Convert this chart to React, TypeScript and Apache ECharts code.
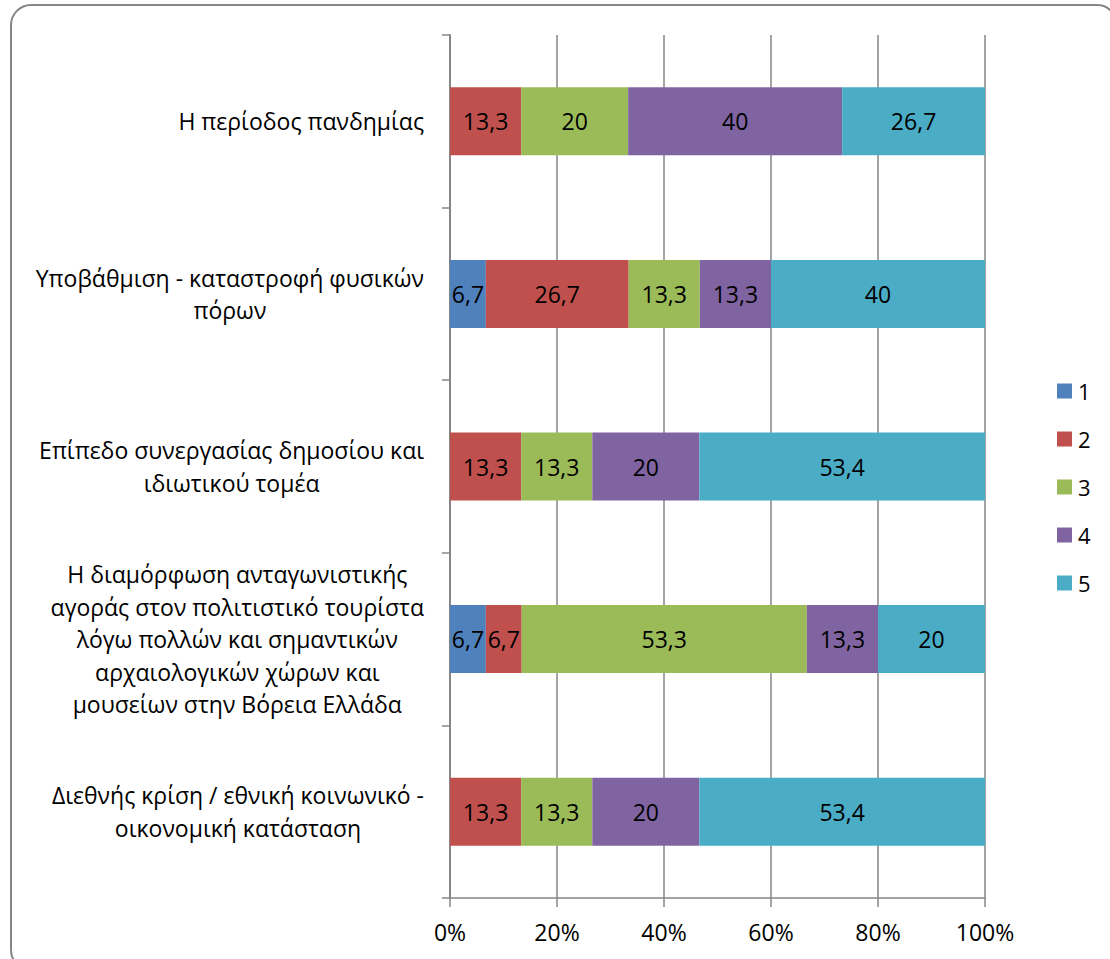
import React, { useEffect, useRef } from "react";
import * as echarts from "echarts";

const categories = [
  "Η περίοδος πανδημίας",
  "Υποβάθμιση - καταστροφή φυσικών\nπόρων",
  "Επίπεδο συνεργασίας δημοσίου και\nιδιωτικού τομέα",
  "Η διαμόρφωση ανταγωνιστικής\nαγοράς στον πολιτιστικό τουρίστα\nλόγω πολλών και σημαντικών\nαρχαιολογικών χώρων και\nμουσείων στην Βόρεια Ελλάδα",
  "Διεθνής κρίση / εθνική κοινωνικό -\nοικονομική κατάσταση",
];
const seriesNames = ["1", "2", "3", "4", "5"];
const s1 = [0, 6.7, 0, 6.7, 0];
const s2 = [13.3, 26.7, 13.3, 6.7, 13.3];
const s3 = [20, 13.3, 13.3, 53.3, 13.3];
const s4 = [40, 13.3, 20, 13.3, 20];
const s5 = [26.7, 40, 53.4, 20, 53.4];
const colors = ["#4F81BD", "#C0504D", "#9BBB59", "#8064A2", "#4BACC6"];
const xTicks = [0, 20, 40, 60, 80, 100];

const FONT = "'Open Sans', 'Noto Sans', sans-serif";
const AXIS = "#868686";

export default function App() {
  const ref = useRef<HTMLDivElement>(null);
  useEffect(() => {
    const chart = echarts.init(ref.current!, null, { renderer: "svg" });
    const data = [s1, s2, s3, s4, s5];
    chart.setOption({
      animation: false,
      textStyle: { fontFamily: FONT, color: "#000" },
      graphic: [
        {
          type: "rect",
          shape: { x: 11, y: 5, width: 1106, height: 965, r: 20 },
          style: { fill: "none", stroke: AXIS, lineWidth: 2 },
          silent: true,
        },
      ],
      grid: { left: 450, right: 125, top: 35, bottom: 61 },
      legend: {
        orient: "vertical",
        left: 1057,
        top: 380,
        padding: 0,
        itemWidth: 15,
        itemHeight: 15,
        itemGap: 26,
        icon: "rect",
        data: seriesNames,
        textStyle: { fontSize: 22, fontFamily: FONT, color: "#000", padding: [0, 0, 0, 1] },
      },
      xAxis: {
        type: "value",
        min: xTicks[0],
        max: xTicks[xTicks.length - 1],
        interval: 20,
        axisLine: { show: true, lineStyle: { color: AXIS, width: 1.5 } },
        axisTick: { show: true, length: 9, lineStyle: { color: AXIS, width: 1.5 } },
        splitLine: { show: true, lineStyle: { color: AXIS, width: 1.5 } },
        axisLabel: {
          formatter: "{value}%",
          fontSize: 23,
          margin: 22,
          color: "#000",
          fontFamily: FONT,
        },
      },
      yAxis: {
        type: "category",
        inverse: true,
        data: categories,
        axisLine: { show: true, lineStyle: { color: AXIS, width: 2 } },
        axisTick: { show: true, length: 8, lineStyle: { color: AXIS, width: 1.5 } },
        axisLabel: {
          margin: 26,
          formatter: (v: string) =>
            v
              .split("\n")
              .map((l) => `{c|${l}}`)
              .join("\n"),
          rich: {
            c: {
              align: "center",
              fontSize: 23,
              lineHeight: 32.5,
              fontFamily: FONT,
              color: "#000",
            },
          },
        },
      },
      series: seriesNames.map((name, i) => ({
        name,
        type: "bar",
        stack: "total",
        barWidth: 68,
        itemStyle: { color: colors[i] },
        label: {
          show: true,
          position: "inside",
          color: "#000",
          fontSize: 23,
          fontFamily: FONT,
          formatter: (p: any) =>
            p.value > 0 ? String(p.value).replace(".", ",") : "",
        },
        data: data[i],
      })),
    });
    return () => chart.dispose();
  }, []);
  return (
    <div
      ref={ref}
      style={{ position: "absolute", left: 0, top: 0, width: 1110, height: 959, background: "#fff" }}
    />
  );
}
